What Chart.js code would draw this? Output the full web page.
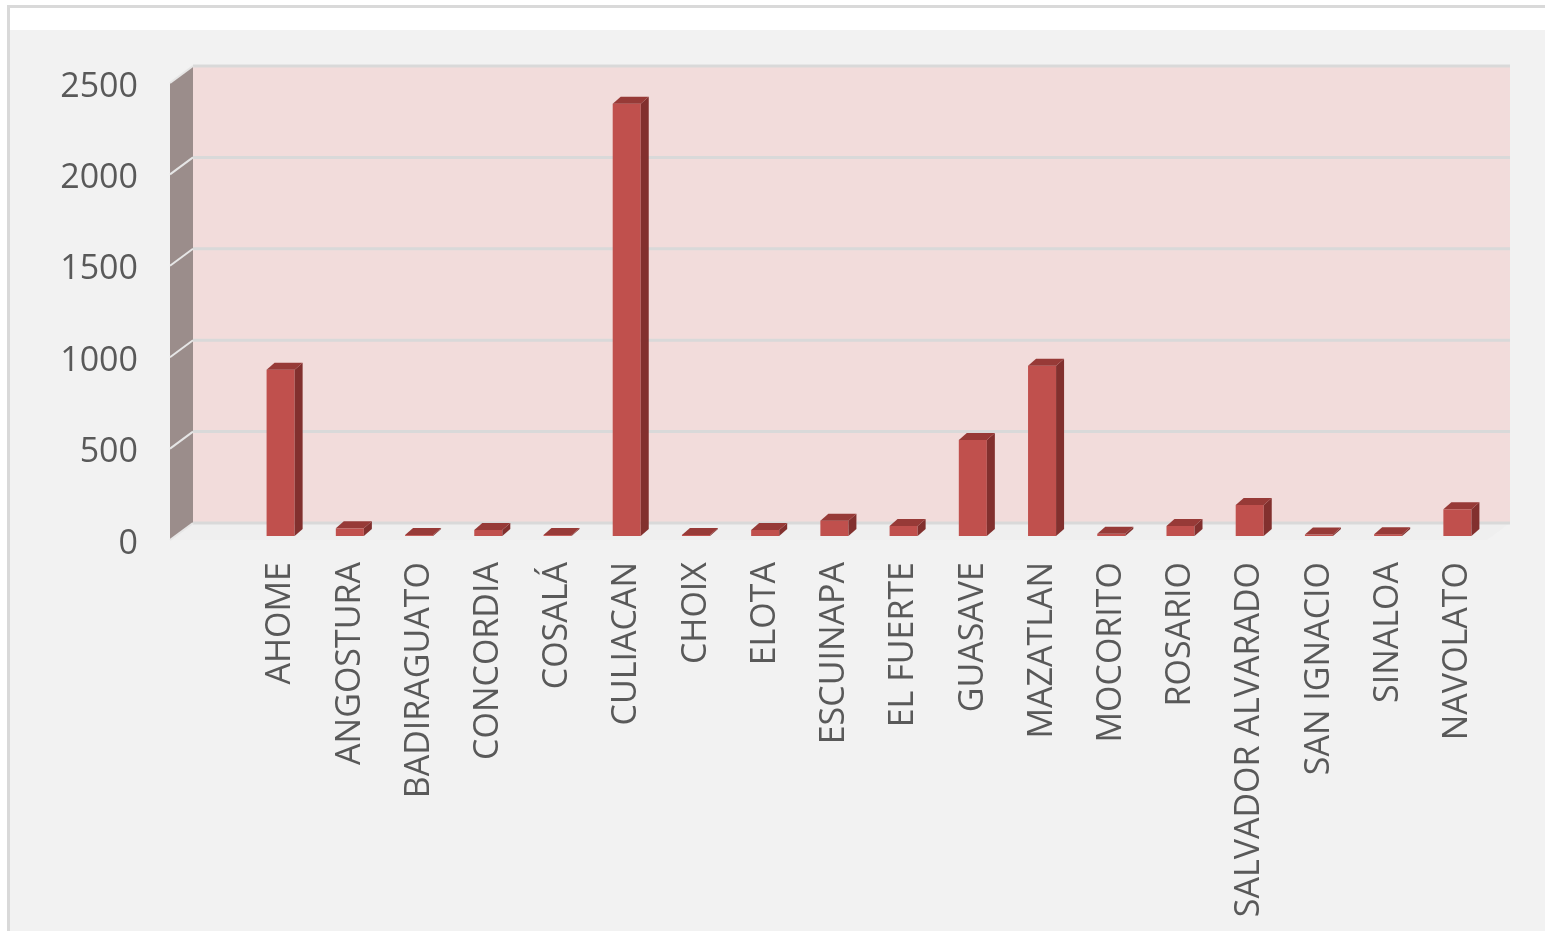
<!DOCTYPE html>
<html>
<head>
<meta charset="utf-8">
<script src="https://cdn.jsdelivr.net/npm/chart.js@4.4.1/dist/chart.umd.min.js"></script>
<style>
  body { margin: 0; background: #ffffff; overflow: hidden; }
  .frame {
    position: absolute; left: 7px; top: 5px; width: 1560px; height: 923px;
    border-left: 3px solid #d9d9d9; border-top: 3px solid #d9d9d9;
    background: #f2f2f2;
  }
  .strip { position: absolute; left: 0; top: 0; right: 0; height: 22px; background: #ffffff; }
  #chart { position: absolute; left: 0; top: 0; }
</style>
</head>
<body>
<div class="frame"><div class="strip"></div></div>
<canvas id="chart" width="1545" height="931"></canvas>
<script>
// Municipios de Sinaloa
const municipios = [
    'AHOME', 'ANGOSTURA', 'BADIRAGUATO', 'CONCORDIA', 'COSALÁ', 'CULIACAN',
    'CHOIX', 'ELOTA', 'ESCUINAPA', 'EL FUERTE', 'GUASAVE', 'MAZATLAN',
    'MOCORITO', 'ROSARIO', 'SALVADOR ALVARADO', 'SAN IGNACIO', 'SINALOA', 'NAVOLATO'
];
const valores = [910, 42, 5, 33, 5, 2365, 6, 33, 84, 55, 525, 932, 12, 55, 170, 8, 10, 146];
const yTicks = [0, 500, 1000, 1500, 2000, 2500];

// 3D look: depth of the walls and of each bar
const wallFront = { dx: -5, dy: 4 };
const wallBack = { dx: 18, dy: -13 };
const barDepth = { dx: 8, dy: 7 };

const threeD = {
    id: 'threeD',
    beforeDatasetsDraw(chart) {
        const ctx = chart.ctx;
        const y = chart.scales.y;
        const area = chart.chartArea;
        const fl = area.left - 71 + wallFront.dx;   // front edge of left wall
        const bl = area.left - 71 + wallBack.dx;    // back edge of left wall
        const br = area.right + wallBack.dx;
        const fr = area.right + wallFront.dx;
        const top = y.getPixelForValue(yTicks[yTicks.length - 1]);
        const zero = y.getPixelForValue(0);
        ctx.save();
        // floor
        ctx.fillStyle = '#efefef';
        ctx.beginPath();
        ctx.moveTo(fl, zero + wallFront.dy);
        ctx.lineTo(bl, zero + wallBack.dy);
        ctx.lineTo(br, zero + wallBack.dy);
        ctx.lineTo(fr, zero + wallFront.dy);
        ctx.closePath();
        ctx.fill();
        // back wall
        ctx.fillStyle = '#f2dcdb';
        ctx.fillRect(bl, top + wallBack.dy, br - bl, zero - top);
        // left wall
        ctx.fillStyle = '#9b8d8b';
        ctx.beginPath();
        ctx.moveTo(fl, top + wallFront.dy);
        ctx.lineTo(bl, top + wallBack.dy);
        ctx.lineTo(bl, zero + wallBack.dy);
        ctx.lineTo(fl, zero + wallFront.dy);
        ctx.closePath();
        ctx.fill();
        // gridlines
        yTicks.forEach(v => {
            const py = y.getPixelForValue(v);
            ctx.strokeStyle = '#d9d9d9';
            ctx.lineWidth = 3;
            ctx.beginPath();
            ctx.moveTo(bl, py + wallBack.dy);
            ctx.lineTo(br, py + wallBack.dy);
            ctx.stroke();
            ctx.strokeStyle = '#e6e6e6';
            ctx.lineWidth = 2;
            ctx.beginPath();
            ctx.moveTo(fl, py + wallFront.dy);
            ctx.lineTo(bl, py + wallBack.dy);
            ctx.stroke();
        });
        ctx.restore();
    },
    afterDatasetsDraw(chart) {
        const ctx = chart.ctx;
        const meta = chart.getDatasetMeta(0);
        ctx.save();
        meta.data.forEach(bar => {
            const p = bar.getProps(['x', 'y', 'base', 'width'], true);
            const l = p.x - p.width / 2, r = p.x + p.width / 2;
            // side face
            ctx.fillStyle = '#82302e';
            ctx.beginPath();
            ctx.moveTo(r, p.base);
            ctx.lineTo(r + barDepth.dx, p.base - barDepth.dy);
            ctx.lineTo(r + barDepth.dx, p.y - barDepth.dy);
            ctx.lineTo(r, p.y);
            ctx.closePath();
            ctx.fill();
            // top face
            ctx.fillStyle = '#973a37';
            ctx.beginPath();
            ctx.moveTo(l, p.y);
            ctx.lineTo(l + barDepth.dx, p.y - barDepth.dy);
            ctx.lineTo(r + barDepth.dx, p.y - barDepth.dy);
            ctx.lineTo(r, p.y);
            ctx.closePath();
            ctx.fill();
        });
        ctx.restore();
    }
};

new Chart(document.getElementById('chart'), {
    type: 'bar',
    data: {
        labels: municipios,
        datasets: [{
            data: valores,
            backgroundColor: '#c0504d',
            borderWidth: 0,
            categoryPercentage: 0.45,
            barPercentage: 0.9
        }]
    },
    options: {
        responsive: false,
        animation: false,
        layout: { padding: { left: 58, right: 53, top: 79, bottom: 13 } },
        plugins: { legend: { display: false }, tooltip: { enabled: false } },
        scales: {
            x: {
                grid: { display: false, drawTicks: false },
                border: { display: false },
                afterFit: axis => {
                    axis.height = 382;
                    axis.paddingLeft = 0;
                    axis.paddingRight = 0;
                },
                ticks: {
                    minRotation: 90, maxRotation: 90, autoSkip: false,
                    padding: 26, color: '#595959',
                    font: { family: 'Open Sans', size: 34 }
                }
            },
            y: {
                min: 0, max: 2500,
                grid: { display: false, drawTicks: false },
                border: { display: false },
                afterBuildTicks: axis => { axis.ticks = yTicks.map(v => ({ value: v })); },
                afterFit: axis => {
                    axis.width = 188;
                    axis.paddingTop = 0;
                    axis.paddingBottom = 0;
                },
                ticks: {
                    padding: 108, labelOffset: 8, color: '#595959',
                    font: { family: 'Open Sans', size: 34 },
                    callback: v => String(v)
                }
            }
        }
    },
    plugins: [threeD]
});
</script>
</body>
</html>
